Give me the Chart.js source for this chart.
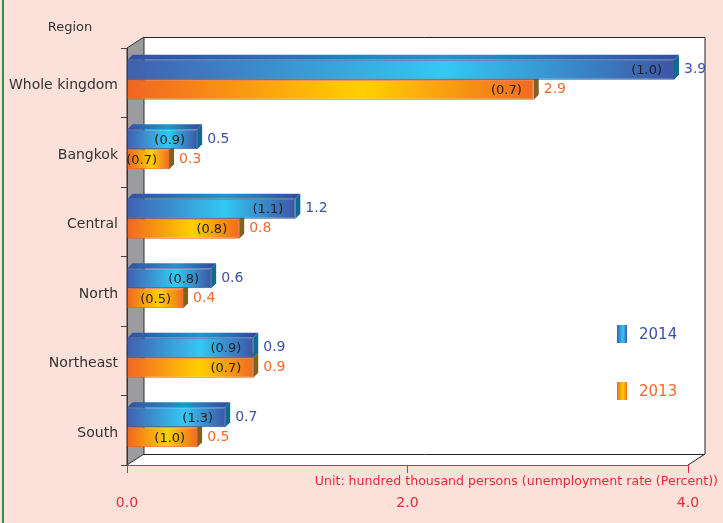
<!DOCTYPE html>
<html>
<head>
<meta charset="utf-8">
<script src="https://cdn.jsdelivr.net/npm/chart.js@4.4.1/dist/chart.umd.min.js"></script>
<style>
  html, body { margin: 0; padding: 0; background: #fce1da; }
  canvas { display: block; }
</style>
</head>
<body>
<canvas id="chart" width="723" height="523"></canvas>
<script>
const categories = ['Whole kingdom', 'Bangkok', 'Central', 'North', 'Northeast', 'South'];
const unemployed2014 = [3.9, 0.5, 1.2, 0.6, 0.9, 0.7];
const unemployed2013 = [2.9, 0.3, 0.8, 0.4, 0.9, 0.5];
const rate2014 = [1.0, 0.9, 1.1, 0.8, 0.9, 1.3];
const rate2013 = [0.7, 0.7, 0.8, 0.5, 0.7, 1.0];
const seriesLabels = ['2014', '2013'];

const RED = '#e8283a';
const BLUE_TXT = '#3b52a6';
const ORANGE_TXT = '#f06a2c';
const FONT = '"DejaVu Sans", sans-serif';

const wall = { x: 17, y: 11 };   // depth of the 3d box
const barDepth = 5;
const barLift = 3;               // bars sit a little above the category centre

// gradient along each bar, from its base to its end
const barFill = (stops) => (context) => {
    const chart = context.chart;
    if (!chart.chartArea || context.type !== 'data') return stops[1];
    const xs = chart.scales.x;
    const x0 = xs.getPixelForValue(0);
    const x1 = xs.getPixelForValue(context.raw);
    const g = chart.ctx.createLinearGradient(x0, 0, Math.max(x1, x0 + 1), 0);
    g.addColorStop(0, stops[0]);
    g.addColorStop(0.58, stops[1]);
    g.addColorStop(1, stops[2]);
    return g;
};

const styles = [
    { front: ['#4060ae', '#33c9f4', '#3d56a6'], top: ['#3350a0', '#2196c8', '#3350a0'], side: '#0f6c8c', text: BLUE_TXT, rates: rate2014 },
    { front: ['#f26522', '#ffd000', '#f26a22'], top: ['#e05a1c', '#f0a010', '#e05a1c'], side: '#7d6420', text: ORANGE_TXT, rates: rate2013 }
];

const boxPlugin = {
    id: 'box3d',
    beforeDraw(chart) {
        const { ctx, chartArea: a, width, height } = chart;
        ctx.save();
        ctx.fillStyle = '#fce1da';
        ctx.fillRect(0, 0, width, height);
        ctx.fillStyle = '#2f8f46';
        ctx.fillRect(2, 0, 2, height);

        // back wall + floor
        ctx.beginPath();
        ctx.moveTo(a.left + wall.x, a.top - wall.y);
        ctx.lineTo(a.right + wall.x, a.top - wall.y);
        ctx.lineTo(a.right + wall.x, a.bottom - wall.y);
        ctx.lineTo(a.right, a.bottom);
        ctx.lineTo(a.left, a.bottom);
        ctx.closePath();
        ctx.fillStyle = '#ffffff';
        ctx.fill();
        ctx.strokeStyle = '#222';
        ctx.lineWidth = 1;
        ctx.beginPath();
        ctx.moveTo(a.left + wall.x, a.top - wall.y + 0.5);
        ctx.lineTo(a.right + wall.x, a.top - wall.y + 0.5);
        ctx.lineTo(a.right + wall.x, a.bottom - wall.y);
        ctx.lineTo(a.right, a.bottom);
        ctx.moveTo(a.left + wall.x, a.bottom - wall.y + 0.5);
        ctx.lineTo(a.right + wall.x, a.bottom - wall.y + 0.5);
        ctx.stroke();

        // grey side wall
        ctx.beginPath();
        ctx.moveTo(a.left, a.top);
        ctx.lineTo(a.left + wall.x, a.top - wall.y);
        ctx.lineTo(a.left + wall.x, a.bottom - wall.y);
        ctx.lineTo(a.left, a.bottom);
        ctx.closePath();
        ctx.fillStyle = '#9c9ca0';
        ctx.fill();
        ctx.strokeStyle = '#333';
        ctx.stroke();
        ctx.restore();
    },
    beforeDatasetsDraw(chart) {
        const ctx = chart.ctx;
        ctx.save();
        ctx.translate(0, -barLift);
        for (let i = chart.data.datasets.length - 1; i >= 0; i--) {
            const st = styles[i];
            chart.getDatasetMeta(i).data.forEach((el) => {
                const { x, y, base, height } = el.getProps(['x', 'y', 'base', 'height'], true);
                const t = y - height / 2, b = y + height / 2;
                const g = ctx.createLinearGradient(base, 0, x, 0);
                g.addColorStop(0, st.top[0]);
                g.addColorStop(0.58, st.top[1]);
                g.addColorStop(1, st.top[2]);
                ctx.fillStyle = g;
                ctx.beginPath();
                ctx.moveTo(base, t);
                ctx.lineTo(base + barDepth, t - barDepth);
                ctx.lineTo(x + barDepth, t - barDepth);
                ctx.lineTo(x, t);
                ctx.closePath();
                ctx.fill();
                ctx.fillStyle = st.side;
                ctx.beginPath();
                ctx.moveTo(x, t);
                ctx.lineTo(x + barDepth, t - barDepth);
                ctx.lineTo(x + barDepth, b - barDepth);
                ctx.lineTo(x, b);
                ctx.closePath();
                ctx.fill();
            });
        }
    },
    afterDatasetsDraw(chart) {
        const { ctx, chartArea: a } = chart;
        ctx.textBaseline = 'middle';
        chart.data.datasets.forEach((ds, i) => {
            const st = styles[i];
            chart.getDatasetMeta(i).data.forEach((el, j) => {
                const { x, y } = el.getProps(['x', 'y'], true);
                ctx.font = '14px ' + FONT;
                ctx.textAlign = 'left';
                ctx.fillStyle = st.text;
                ctx.fillText(ds.data[j].toFixed(1), x + 10, y);
                ctx.font = '13px ' + FONT;
                ctx.textAlign = 'right';
                ctx.fillStyle = '#222';
                ctx.fillText('(' + st.rates[j].toFixed(1) + ')', x - 12, y + 1);
            });
        });
        ctx.restore();   // undo the lift set in beforeDatasetsDraw

        ctx.save();
        ctx.textBaseline = 'middle';
        // legend inside the box
        seriesLabels.forEach((lab, i) => {
            const st = styles[i];
            const lx = a.right - 71, ly = a.top + 277 + i * 57;
            const g = ctx.createLinearGradient(lx, 0, lx + 10, 0);
            g.addColorStop(0, st.front[0]);
            g.addColorStop(0.6, st.front[1]);
            g.addColorStop(1, st.front[2]);
            ctx.fillStyle = g;
            ctx.fillRect(lx, ly, 10, 18);
            ctx.font = '15px ' + FONT;
            ctx.textAlign = 'left';
            ctx.fillStyle = st.text;
            ctx.fillText(lab, lx + 22, ly + 10);
        });

        ctx.font = '13px ' + FONT;
        ctx.fillStyle = '#333';
        ctx.textAlign = 'center';
        ctx.fillText('Region', 70, a.top - 20);
        ctx.font = '12.6px ' + FONT;
        ctx.fillStyle = RED;
        ctx.textAlign = 'right';
        ctx.fillText('Unit: hundred thousand persons (unemployment rate (Percent))', 718, a.bottom + 17);
        ctx.restore();
    }
};

new Chart(document.getElementById('chart'), {
    type: 'bar',
    data: {
        labels: categories,
        datasets: [
            {
                label: seriesLabels[0],
                data: unemployed2014,
                backgroundColor: barFill(styles[0].front),
                borderColor: '#3550a0',
                borderWidth: 1
            },
            {
                label: seriesLabels[1],
                data: unemployed2013,
                backgroundColor: barFill(styles[1].front),
                borderColor: '#e8601e',
                borderWidth: 1
            }
        ]
    },
    options: {
        indexAxis: 'y',
        responsive: false,
        animation: false,
        categoryPercentage: 0.58,
        barPercentage: 0.99,
        layout: { padding: { top: 48, right: 35, left: 0, bottom: 0 } },
        plugins: {
            legend: { display: false },
            tooltip: { enabled: false }
        },
        scales: {
            y: {
                grid: { drawOnChartArea: false, offset: true, tickLength: 6, color: '#444' },
                border: { color: '#333' },
                ticks: { color: '#333', font: { size: 14, family: FONT }, padding: 3, labelOffset: 3 },
                afterFit: (scale) => { scale.width = 127; }
            },
            x: {
                min: 0,
                max: 4,
                grid: { drawOnChartArea: false, tickLength: 8, color: RED },
                border: { color: RED },
                ticks: {
                    stepSize: 2,
                    color: RED,
                    padding: 22,
                    font: { size: 14, family: FONT },
                    callback: (v) => Number(v).toFixed(1)
                },
                afterFit: (scale) => { scale.height = 58; }
            }
        }
    },
    plugins: [boxPlugin]
});
</script>
</body>
</html>
